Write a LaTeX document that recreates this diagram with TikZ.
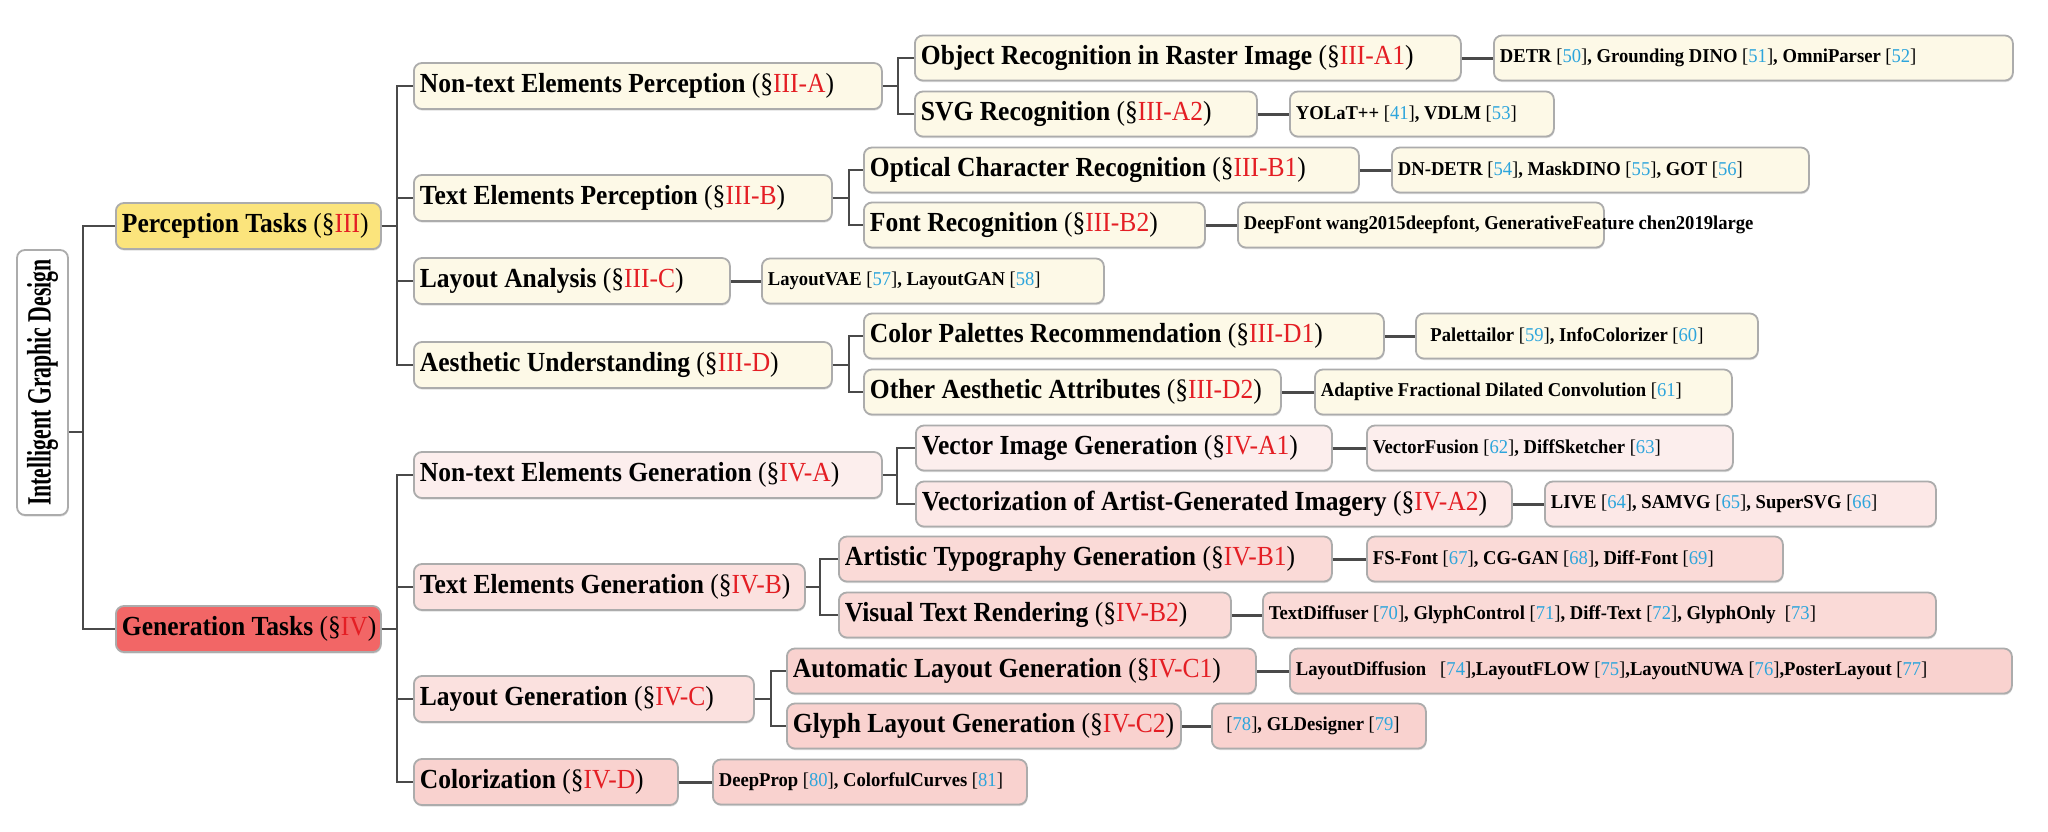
\documentclass[tikz,border=0pt]{standalone}
\usepackage{fontspec}
\setmainfont{Liberation Serif}
\usetikzlibrary{shadows}
\definecolor{cream}{RGB}{253,249,231}
\definecolor{ytask}{RGB}{251,228,124}
\definecolor{rtask}{RGB}{242,102,102}
\definecolor{pinka}{RGB}{252,238,237}
\definecolor{pinkb}{RGB}{252,232,231}
\definecolor{pinkc}{RGB}{251,225,223}
\definecolor{pinkd}{RGB}{250,218,215}
\definecolor{pinke}{RGB}{249,210,207}
\definecolor{bordc}{RGB}{172,172,172}
\definecolor{connc}{RGB}{74,74,74}
\definecolor{secred}{RGB}{228,30,36}
\definecolor{citec}{RGB}{45,165,220}
\def\hsc{1}
\newcommand\mkbx[2]{\makebox[#1pt][l]{\scalebox{\hsc}[1]{#2}}}
\newcommand\msec[1]{{\mdseries(\S\textcolor{secred}{#1})}}
\newcommand\mcite[1]{{\mdseries[\textcolor{citec}{#1}]}}
\tikzset{
  bx/.style={draw=bordc, line width=1.8pt, rounded corners=8pt, inner xsep=6pt, inner ysep=1pt, anchor=west,
    drop shadow={shadow xshift=0.6pt, shadow yshift=-1.6pt, fill=black!25}},
  big/.style={bx, minimum height=46pt, font=\fontsize{27.6}{30}\selectfont\bfseries\def\hsc{0.925}},
  mid/.style={bx, minimum height=45pt, font=\fontsize{27.6}{30}\selectfont\bfseries\def\hsc{0.925}},
  leaf/.style={bx, minimum height=45pt, font=\fontsize{19.6}{21}\selectfont\bfseries\def\hsc{0.95}},
  rootst/.style={draw=bordc, line width=1.8pt, rounded corners=8pt, fill=white, inner sep=0pt,
    drop shadow={shadow xshift=0.6pt, shadow yshift=-1.6pt, fill=black!25},
    font=\fontsize{34}{36}\selectfont\bfseries},
  conn/.style={draw=connc, line width=2.4pt},
  lconn/.style={draw=connc, line width=3pt}
}
\begin{document}
\begin{tikzpicture}[x=1pt,y=-1pt]
\useasboundingbox[fill=white] (0,0) rectangle (2048,831);
% root
\node[rootst, minimum width=51pt, minimum height=265pt] (root) at (42.5,382.5)
  {\rotatebox{90}{\scalebox{0.64}[1]{Intelligent Graphic Design}}};
% ---------- Perception ----------
\node[big, fill=ytask] (ptask) at (115,226) {\mkbx{253}{Perception Tasks \msec{III}}};
\node[big, fill=cream] (ntp) at (413,86) {\mkbx{456}{Non-text Elements Perception \msec{III-A}}};
\node[big, fill=cream] (tp) at (413,198) {\mkbx{406}{Text Elements Perception \msec{III-B}}};
\node[big, fill=cream] (la) at (413,281) {\mkbx{304}{Layout Analysis \msec{III-C}}};
\node[big, fill=cream] (au) at (413,365) {\mkbx{406}{Aesthetic Understanding \msec{III-D}}};
\node[mid, fill=cream] (orr) at (914,58) {\mkbx{534}{Object Recognition in Raster Image \msec{III-A1}}};
\node[mid, fill=cream] (svg) at (914,114) {\mkbx{330}{SVG Recognition \msec{III-A2}}};
\node[mid, fill=cream] (ocr) at (863,170) {\mkbx{483}{Optical Character Recognition \msec{III-B1}}};
\node[mid, fill=cream] (fr) at (863,225) {\mkbx{329}{Font Recognition \msec{III-B2}}};
\node[mid, fill=cream] (cpr) at (863,336) {\mkbx{508}{Color Palettes Recommendation \msec{III-D1}}};
\node[mid, fill=cream] (oaa) at (863,392) {\mkbx{405}{Other Aesthetic Attributes \msec{III-D2}}};
\node[leaf, fill=cream] (ldetr) at (1493,58) {\mkbx{507}{DETR \mcite{50}, Grounding DINO \mcite{51}, OmniParser \mcite{52}}};
\node[leaf, fill=cream] (lyolat) at (1289,114) {\mkbx{252}{YOLaT++ \mcite{41}, VDLM \mcite{53}}};
\node[leaf, fill=cream] (ldndetr) at (1391,170) {\mkbx{405}{DN-DETR \mcite{54}, MaskDINO \mcite{55}, GOT \mcite{56}}};
\node[leaf, fill=cream] (ldeepfont) at (1237,225) {\mkbx{354}{DeepFont wang2015deepfont, GenerativeFeature chen2019large}};
\node[leaf, fill=cream] (llvae) at (761,281) {\mkbx{330}{LayoutVAE \mcite{57}, LayoutGAN \mcite{58}}};
\node[leaf, fill=cream] (lpalet) at (1415,336) {\mkbx{330}{\hspace*{9pt}Palettailor \mcite{59}, InfoColorizer \mcite{60}}};
\node[leaf, fill=cream] (lafdc) at (1314,392) {\mkbx{405}{Adaptive Fractional Dilated Convolution \mcite{61}}};
% ---------- Generation ----------
\node[big, fill=rtask] (gtask) at (115,629) {\mkbx{253}{Generation Tasks \msec{IV}}};
\node[big, fill=pinka] (ntg) at (413,475) {\mkbx{456}{Non-text Elements Generation \msec{IV-A}}};
\node[big, fill=pinkc] (tg) at (413,587) {\mkbx{379}{Text Elements Generation \msec{IV-B}}};
\node[big, fill=pinkc] (lg) at (413,699) {\mkbx{328}{Layout Generation \msec{IV-C}}};
\node[big, fill=pinke] (col) at (413,782) {\mkbx{252}{Colorization \msec{IV-D}}};
\node[mid, fill=pinka] (vig) at (915,448) {\mkbx{404}{Vector Image Generation \msec{IV-A1}}};
\node[mid, fill=pinkb] (vag) at (915,504) {\mkbx{584}{Vectorization of Artist-Generated Imagery \msec{IV-A2}}};
\node[mid, fill=pinkd] (atg) at (838,559) {\mkbx{481}{Artistic Typography Generation \msec{IV-B1}}};
\node[mid, fill=pinkd] (vtr) at (838,615) {\mkbx{380}{Visual Text Rendering \msec{IV-B2}}};
\node[mid, fill=pinke] (alg) at (786,671) {\mkbx{457}{Automatic Layout Generation \msec{IV-C1}}};
\node[mid, fill=pinke] (glg) at (786,726) {\mkbx{382}{Glyph Layout Generation \msec{IV-C2}}};
\node[leaf, fill=pinka] (lvf) at (1366,448) {\mkbx{354}{VectorFusion \mcite{62}, DiffSketcher \mcite{63}}};
\node[leaf, fill=pinkb] (llive) at (1544,504) {\mkbx{379}{LIVE \mcite{64}, SAMVG \mcite{65}, SuperSVG \mcite{66}}};
\node[leaf, fill=pinkd] (lfs) at (1366,559) {\mkbx{404}{FS-Font \mcite{67}, CG-GAN \mcite{68}, Diff-Font \mcite{69}}};
\node[leaf, fill=pinkd] (ltd) at (1262,615) {\mkbx{661}{TextDiffuser \mcite{70}, GlyphControl \mcite{71}, Diff-Text \mcite{72}, GlyphOnly\ \ \mcite{73}}};
\node[leaf, fill=pinke] (lld) at (1289,671) {\mkbx{710}{LayoutDiffusion\ \ \ \mcite{74},LayoutFLOW \mcite{75},LayoutNUWA \mcite{76},PosterLayout \mcite{77}}};
\node[leaf, fill=pinke] (l78) at (1211,726) {\mkbx{202}{\hspace*{9pt}\mcite{78}, GLDesigner \mcite{79}}};
\node[leaf, fill=pinke] (ldp) at (712,782) {\mkbx{302}{DeepProp \mcite{80}, ColorfulCurves \mcite{81}}};
% ---------- connectors ----------
\coordinate (rfork) at (83,432);
\draw[conn] (root.east |- rfork) -- (rfork);
\draw[conn] (rfork) |- (ptask.west);
\draw[conn] (rfork) |- (gtask.west);
\foreach \c in {ntp,tp,la,au} \draw[conn] (ptask.east) -- ++(15,0) |- (\c.west);
\foreach \c in {orr,svg} \draw[conn] (ntp.east) -- ++(15,0) |- (\c.west);
\foreach \c in {ocr,fr} \draw[conn] (tp.east) -- ++(16,0) |- (\c.west);
\foreach \c in {cpr,oaa} \draw[conn] (au.east) -- ++(16,0) |- (\c.west);
\foreach \c in {ntg,tg,lg,col} \draw[conn] (gtask.east) -- ++(15,0) |- (\c.west);
\foreach \c in {vig,vag} \draw[conn] (ntg.east) -- ++(14,0) |- (\c.west);
\foreach \c in {atg,vtr} \draw[conn] (tg.east) -- ++(14,0) |- (\c.west);
\foreach \c in {alg,glg} \draw[conn] (lg.east) -- ++(16,0) |- (\c.west);
\draw[lconn] (orr.east) -- (ldetr.west);
\draw[lconn] (svg.east) -- (lyolat.west);
\draw[lconn] (ocr.east) -- (ldndetr.west);
\draw[lconn] (fr.east) -- (ldeepfont.west);
\draw[lconn] (la.east) -- (llvae.west);
\draw[lconn] (cpr.east) -- (lpalet.west);
\draw[lconn] (oaa.east) -- (lafdc.west);
\draw[lconn] (vig.east) -- (lvf.west);
\draw[lconn] (vag.east) -- (llive.west);
\draw[lconn] (atg.east) -- (lfs.west);
\draw[lconn] (vtr.east) -- (ltd.west);
\draw[lconn] (alg.east) -- (lld.west);
\draw[lconn] (glg.east) -- (l78.west);
\draw[lconn] (col.east) -- (ldp.west);
\end{tikzpicture}
\end{document}
